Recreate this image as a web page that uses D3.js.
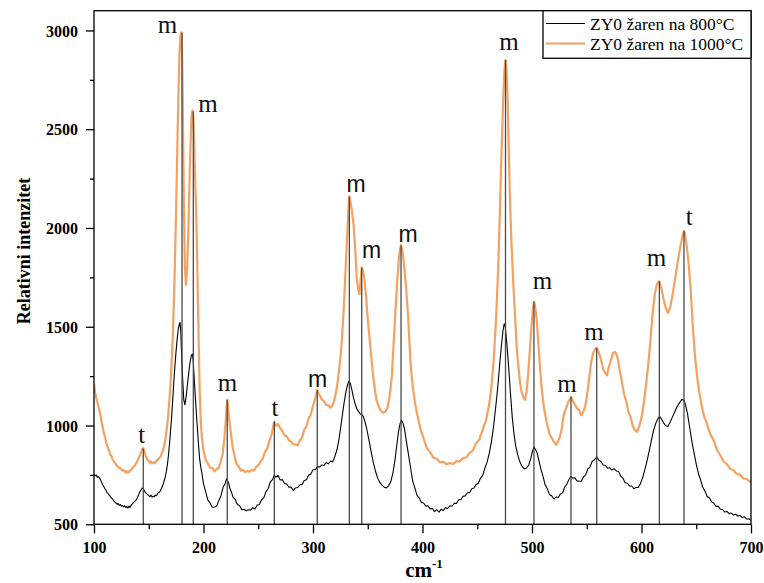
<!DOCTYPE html>
<html>
<head>
<meta charset="utf-8">
<script src="https://cdn.jsdelivr.net/npm/d3@7"></script>
<style>
  html, body { margin: 0; padding: 0; background: #fff; }
  svg { display: block; }
</style>
</head>
<body>
<svg id="chart" width="764" height="583"></svg>
<script>
// Raman spectra of ZY0 annealed at two temperatures: [wavenumber (cm-1), intensity]
const series800 = [
[100,752],[101,745],[102,750],[103,738],[104,742],[105,735],[106,725],[107,712],[108,700],[109,690],[110,680],[111,672],[112,660],[113,655],[114,646],[115,640],[116,632],[117,628],[118,618],[119,612],[120,608],[121,602],[122,605],[123,596],[124,600],[125,592],[126,596],[127,588],[128,594],[129,585],[130,590],[131,582],[132,592],[133,586],[134,598],[135,604],[136,610],[137,615],[138,620],[139,628],[140,640],[141,652],[142,665],[143,675],[144,684],[145,680],[146,670],[147,660],[148,655],[149,650],[150,645],[151,640],[152,648],[153,638],[154,642],[155,640],[156,648],[157,645],[158,655],[159,660],[160,664],[161,675],[162,686],[163,700],[164,718],[165,738],[166,765],[167,800],[168,850],[169,910],[170,980],[171,1050],[172,1140],[173,1230],[174,1310],[175,1380],[176,1440],[177,1490],[178,1515],[178.6,1522],[179.3,1470],[180,1360],[181,1230],[182,1130],[183,1105],[184,1140],[185,1190],[186,1240],[187,1290],[188,1330],[189,1355],[189.8,1362],[190.6,1330],[191.5,1240],[192.5,1150],[193.5,1060],[194.5,980],[195.5,900],[196.5,830],[197.5,790],[198.5,760],
[200,705],[202,664],[204,622],[206,608],[208,586],[210,588],[212,592],[214,620],[216,645],[218,690],[219.5,702],[221,730],[222,720],[223,708],[224,682],[225.5,664],[227,636],[229,626],[231,600],[233,594],[235,574],[237,576],[239,568],[241,574],[243,572],[245,584],[247,578],[249,598],[251,600],[253,624],[255,634],[257,664],[259,680],[261,714],[263,726],[264.7,750],[266,738],[268,748],[270,724],[272,726],[274,706],[276,704],[278,688],[280,688],[282,672],[284,684],[286,686],[288,700],[290,700],[292,722],[294,726],[296,750],[298,754],[300,776],[302,776],[304,792],[306,790],[308,800],[310,798],[312,812],[314,806],[316,820],[318,816],[320,844],
[322,880],[324,940],[326,1020],[328,1100],[330,1170],[331.5,1205],[332.8,1225],[334,1215],[335.5,1180],[337,1140],[338.5,1110],[340,1085],[341.5,1070],[343,1060],[344.5,1055],[346,1045],[347.5,1020],[349,985],[351,930],[353,870],[355,815],[357,770],[359,735],[361,712],[363,698],[365,688],[367,684],[369,695],[371,715],[373,760],[375,830],[376.5,900],[378,965],[379.5,1010],[380.8,1027],[382,1015],[383.5,985],[385,930],[387,860],[389,790],
[391,720],[393,684],[395,646],[397,634],[399,610],[401,608],[403,592],[405,594],[407,578],[409,580],[411,564],[413,574],[415,562],[417,576],[419,570],[421,584],[423,580],[425,594],[427,592],[429,606],[431,606],[433,624],[435,624],[437,642],[439,644],[441,660],[443,660],[445,680],[447,684],[449,702],[451,708],[453,734],[455,748],[457,784],
[459,815],[461,860],[463,920],[465,1000],[467,1100],[469,1210],[470.5,1310],[472,1400],[473.5,1480],[474.6,1515],[475.6,1500],[476.6,1440],[477.8,1360],[479,1270],[480.5,1150],[482,1040],[483.5,960],[485,900],[487,850],[489,815],[491,792],[493,780],[495,785],[497,800],[499,835],[500.5,870],[501.8,892],[503,880],[504.5,865],
[506,830],[508,782],[510,744],[512,700],[514,680],[516,650],[518,644],[520,628],[522,638],[524,636],[526,654],[528,660],[530,690],[532,705],[534,730],[535.6,742],[537,734],[539,736],[541,720],[543,718],[545,718],[547,740],[549,750],[551,780],[553,790],[555,820],[557,826],[559.1,842],[561,824],[563,818],[565,800],[567,798],[569,784],[571,786],[573,774],[575,782],[577,770],[579,768],[581,744],[583,734],[585,710],[587,708],[589,694],[591,694],[593,680],[595,686],[597,686],
[599,705],[601,735],[603,775],[605,820],[607,870],[609,925],[611,975],[613,1010],[615,1035],[616.5,1046],[618,1035],[620,1015],[622,1000],[624,995],[626,1015],[628,1040],[630,1065],[632,1090],[634,1110],[636,1125],[637,1132],[638.8,1128],[640,1108],[642,1060],[644,990],[646,920],[648,860],
[650,805],[652,756],[654,724],[656,686],[658,668],[660,641],[662,634],[664,614],[666,608],[668,590],[670,592],[672,576],[674,575],[676,562],[678,565],[680,554],[682,557],[684,547],[686,551],[688,542],[690,545],[692,534],[694,538],[696,527],[698,528],[700,520]
];

const series1000 = [
[100,1210],[101,1170],[102,1140],[103,1120],[104,1095],[105,1075],[106,1050],[107,1015],[108,990],[109,960],[110,945],[111,915],[112,900],[113,880],[114,870],[115,850],[116,845],[117,828],[118,820],[119,812],[120,805],[121,795],[122,792],[123,784],[124,786],[125,778],[126,772],[127,775],[128,766],[129,770],[130,762],[131,768],[132,764],[133,772],[134,775],[135,783],[136,790],[137,795],[138,805],[139,815],[140,825],[141,838],[142,850],[143,865],[144,880],[145,886],[146,872],[147,850],[148,838],[149,826],[150,820],[151,812],[152,818],[153,808],[154,810],[155,815],[156,812],[157,822],[158,826],[159,832],[160,838],[161,845],[162,860],[163,875],[164,895],[165,925],[166,965],[167,1010],[168,1070],[169,1140],[170,1220],[171,1330],[172,1460],[173,1640],[174,1850],[175,2100],[176,2380],[177,2650],[178,2880],[179,2975],[179.8,2990],[180.5,2880],[181.3,2500],[182,2150],[183,1800],[184,1712],[185,1790],[186,1950],[187,2180],[188,2400],[189,2560],[190,2595],[190.8,2560],[191.5,2420],[192.5,2230],[193.5,2040],[194.5,1760],[195.5,1450],[196.5,1180],[197.5,1020],[198.5,940],
[200,874],[202,826],[204,808],[206,786],[208,786],[210,768],[212,780],[214,786],[216,824],[217.5,856],[219,934],[220,1000],[221,1080],[221.7,1130],[222.5,1095],[223.5,1030],[225,960],[226.5,895],[228,854],[230,806],[232,794],[234,772],[236,776],[238,764],[240,770],[242,766],[244,776],[246,772],[248,790],[250,796],[252,818],[254,830],[256,866],[258,880],[260,920],[262,950],[264,1004],[264.7,1020],[266,998],[268,1008],[270,986],[272,974],[274,950],[276,946],[278,926],[280,918],[282,906],[284,904],[286,900],[288,924],[290,940],[292,980],[294,996],[296,1036],[298,1056],[300,1100],[302,1136],[303.9,1180],[305,1160],[306,1154],[308,1132],[310,1124],[312,1104],[314,1102],[316,1090],[318,1104],
[320,1140],[322,1200],[324,1290],[326,1400],[328,1580],[330,1820],[331.5,2000],[332.5,2110],[333.2,2160],[334.2,2130],[335.5,2090],[337,2020],[338.5,1900],[340,1740],[341.5,1680],[342.5,1665],[343.5,1740],[344.5,1800],[345.5,1785],[347,1740],[348.5,1650],[350,1540],[352,1420],[354,1300],[356,1200],[358,1130],[360,1095],[362,1075],[364,1065],[366,1070],[368,1090],[370,1150],[372,1250],[374,1450],[375.5,1600],[377,1740],[378.5,1850],[379.5,1895],[380.4,1913],[381.5,1890],[383,1820],[385,1700],[387,1540],[389,1320],[391,1200],[393,1120],
[395,1060],[398,986],[401,934],[404,886],[407,864],[410,836],[413,832],[416,814],[419,816],[422,804],[425,810],[428,806],[431,820],[434,818],[437,836],[440,838],[443,862],[446,874],[449,910],[452,930],[455,980],[458,1026],
[461,1110],[463,1200],[465,1330],[467,1520],[469,1780],[470.5,2050],[472,2350],[473.5,2620],[474.8,2800],[475.8,2850],[476.8,2800],[477.8,2640],[479,2340],[480,2120],[481.5,1890],[483,1710],[484.5,1560],[486,1400],[487.5,1300],[489,1220],[490.5,1170],[492,1145],[493.6,1130],[495,1170],[496.5,1260],[498,1380],[499.5,1500],[500.8,1590],[501.8,1627],[503,1600],[504.5,1520],[506,1400],[507.5,1280],
[509,1180],[511,1086],[513.5,1014],[516,956],[519,928],[522,902],[525,934],[527,980],[529,1054],[531,1086],[533,1118],[535.6,1146],[537,1126],[539,1108],[541,1088],[543,1078],[545,1052],[547,1072],[548.5,1096],[550,1140],[552,1230],[554,1320],[556,1370],[558,1390],[559.1,1395],[561,1370],[563,1334],[565,1286],[567,1266],[568.5,1254],[570,1294],[572,1330],[574,1368],[576,1372],[578,1348],[580,1282],[582,1224],[584,1160],[586,1124],[588,1070],[590,1044],[592,996],[594,978],[596,968],[598,998],
[600,1040],[602,1110],[604,1200],[606,1300],[608,1420],[610,1560],[612,1660],[614,1715],[616.3,1730],[618,1700],[620,1642],[622,1600],[624,1570],[626,1595],[628,1650],[630,1720],[632,1790],[634,1860],[636,1920],[637.5,1960],[638.8,1985],[640,1960],[641.5,1900],[643,1820],[645,1680],[647,1490],[649,1340],[651,1240],[653,1160],[655,1100],[657,1050],
[660,1004],[663,954],[666,924],[669,876],[672,848],[675,818],[678,804],[681,780],[684,774],[687,754],[690,752],[693,732],[696,730],[699,716],[700,716]
];

const seriesNames = ["ZY0 žaren na 800°C", "ZY0 žaren na 1000°C"];

// Assigned bands: position, phase letter (m = monoclinic, t = tetragonal), peak height
const bandPos    = [145, 180.4, 190.7, 221.7, 264.7, 303.9, 333.2, 344.5, 380.4, 475.8, 501.8, 535.6, 559.1, 616.3, 638.8];
const bandLetter = ["t", "m", "m", "m", "t", "m", "m", "m", "m", "m", "m", "m", "m", "m", "t"];
const bandTop    = [884, 2990, 2590, 1130, 1020, 1180, 2160, 1800, 1913, 2850, 1627, 1146, 1392, 1730, 1985];
// Letter anchors in data units (wavenumber, intensity)
const letterX    = [143.6, 167.1, 204.1, 221.9, 265.3, 304.1, 339.3, 353.6, 386.8, 479, 509.6, 532, 556.6, 613.7, 643.7];
const letterY    = [911, 2986, 2586, 1175, 1048, 1193, 2183, 1846, 1930, 2900, 1689, 1171, 1433, 1806, 2015];

const xMajor = [100, 200, 300, 400, 500, 600, 700];
const xMinor = [150, 250, 350, 450, 550, 650];
const yMajor = [500, 1000, 1500, 2000, 2500, 3000];
const yMinor = [750, 1250, 1750, 2250, 2750];

const svg = d3.select("#chart");
const L = 94, R = 751, T = 10.7, B = 524.3;

const x = d3.scaleLinear().domain([100, 700]).range([L, R]);
const y = d3.scaleLinear().domain([500, 3100]).range([B, T]);

const serif = "'Liberation Serif', 'Times New Roman', serif";
const sans = "'Liberation Sans', Arial, sans-serif";
const sansBands = new Set([5, 6, 7, 8]);

const line = d3.line().x(d => x(d[0])).y(d => y(d[1]));

const plot = svg.append("g");
plot.append("clipPath").attr("id", "clip").append("rect")
  .attr("x", L).attr("y", T).attr("width", R - L).attr("height", B - T);

const curves = plot.append("g").attr("clip-path", "url(#clip)");
curves.append("path").datum(series1000)
  .attr("d", line).attr("fill", "none")
  .attr("stroke", "#f4a261").attr("stroke-width", 2.2).attr("stroke-linejoin", "round");
curves.append("path").datum(series800)
  .attr("d", line).attr("fill", "none")
  .attr("stroke", "#000").attr("stroke-width", 1.1).attr("stroke-linejoin", "round");

// drop lines from the axis to each assigned band
plot.selectAll(".drop").data(bandPos).join("line")
  .attr("class", "drop")
  .attr("x1", d => x(d)).attr("x2", d => x(d))
  .attr("y1", y(500)).attr("y2", (d, i) => y(bandTop[i]))
  .attr("stroke", "#4a4a4a").attr("stroke-width", 1.3);

plot.selectAll(".band").data(bandLetter).join("text")
  .attr("class", "band")
  .attr("x", (d, i) => x(letterX[i])).attr("y", (d, i) => y(letterY[i]))
  .attr("text-anchor", "middle")
  .attr("font-family", (d, i) => sansBands.has(i) ? sans : serif)
  .attr("font-size", (d, i) => sansBands.has(i) ? 23 : 25)
  .attr("fill", "#111")
  .text(d => d);

// frame
svg.append("rect").attr("x", L).attr("y", T).attr("width", R - L).attr("height", B - T)
  .attr("fill", "none").attr("stroke", "#000").attr("stroke-width", 1.3);

// x axis
const xAxis = svg.append("g").attr("transform", `translate(0,${B})`);
xAxis.call(d3.axisBottom(x).tickValues(xMajor).tickSize(9).tickSizeOuter(0).tickFormat(d3.format("d")));
const xMinorG = svg.append("g").attr("transform", `translate(0,${B})`);
xMinorG.call(d3.axisBottom(x).tickValues(xMinor).tickSize(5).tickSizeOuter(0).tickFormat(""));

// y axis
const yAxis = svg.append("g").attr("transform", `translate(${L},0)`);
yAxis.call(d3.axisLeft(y).tickValues(yMajor).tickSize(8).tickSizeOuter(0).tickFormat(d3.format("d")));
const yMinorG = svg.append("g").attr("transform", `translate(${L},0)`);
yMinorG.call(d3.axisLeft(y).tickValues(yMinor).tickSize(4).tickSizeOuter(0).tickFormat(""));

[xAxis, xMinorG, yAxis, yMinorG].forEach(g => {
  g.select(".domain").remove();
  g.selectAll(".tick line").attr("stroke", "#000").attr("stroke-width", 1.3);
  g.selectAll("text").attr("font-family", serif).attr("font-weight", "bold")
    .attr("font-size", 16).attr("fill", "#000");
});
xAxis.selectAll("text").attr("dy", null).attr("y", 29);
yAxis.selectAll("text").attr("x", -16).attr("dy", "0.35em");

// axis titles
const xt = svg.append("text")
  .attr("x", 424).attr("y", 577).attr("text-anchor", "middle")
  .attr("font-family", serif).attr("font-weight", "bold").attr("font-size", 21);
xt.append("tspan").text("cm");
xt.append("tspan").attr("dy", -9).attr("font-size", 13).text("-1");

svg.append("text")
  .attr("transform", `translate(30,251) rotate(-90)`)
  .attr("text-anchor", "middle")
  .attr("font-family", serif).attr("font-weight", "bold").attr("font-size", 18)
  .text("Relativni intenzitet");

// legend
const lg = svg.append("g");
lg.append("rect").attr("x", 543).attr("y", T).attr("width", R - 543).attr("height", 58.3 - T)
  .attr("fill", "#fff").attr("stroke", "#000").attr("stroke-width", 1.3);
const legendColors = ["#000", "#f4a261"];
seriesNames.forEach((name, i) => {
  const cy = 23.5 + i * 20;
  lg.append("line").attr("x1", 546).attr("x2", 585).attr("y1", cy).attr("y2", cy)
    .attr("stroke", legendColors[i]).attr("stroke-width", i ? 2 : 1.2);
  lg.append("text").attr("x", 590).attr("y", cy + 6)
    .attr("font-family", serif).attr("font-size", 17.5).attr("fill", "#000")
    .text(name);
});
</script>
</body>
</html>
